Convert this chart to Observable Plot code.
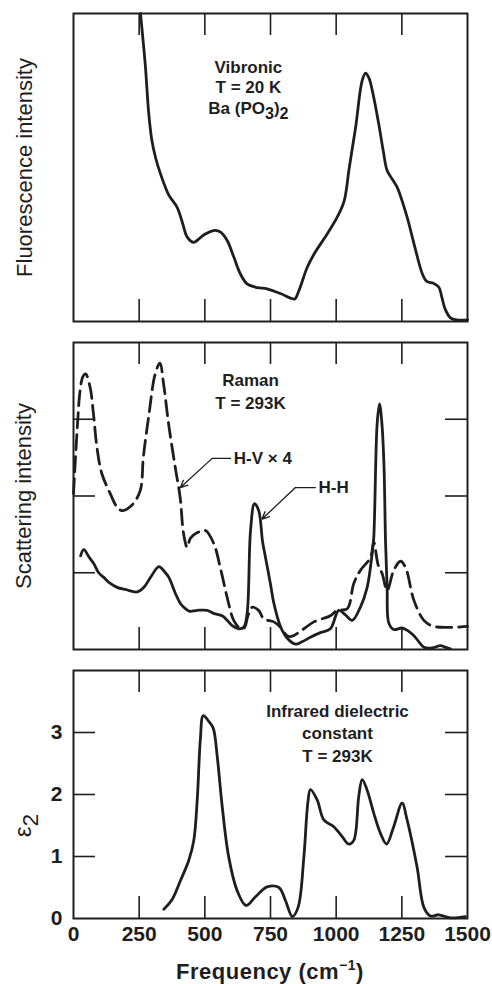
<!DOCTYPE html>
<html><head><meta charset="utf-8">
<script src="https://cdn.jsdelivr.net/npm/d3@7"></script>
<script src="https://cdn.jsdelivr.net/npm/@observablehq/plot@0.6"></script>
<style>
body{margin:0;background:#fff;}
#wrap{position:relative;width:492px;height:984px;font-family:"Liberation Sans",Arial,sans-serif;color:#1e1e1e;overflow:hidden;}
.panel{position:absolute;left:0;}
#xlabel{position:absolute;left:73px;width:394px;top:957px;text-align:center;font-size:22px;font-weight:bold;letter-spacing:0.5px;}
#xlabel sup{font-size:14px;vertical-align:9px;}
</style></head><body><div id="wrap"></div>
<script>
// ---- data ----
const xTicks = [250, 500, 750, 1000, 1250];
const xTickLabels = [0, 250, 500, 750, 1000, 1250, 1500];
const yTicksMid = [1, 2, 3];
const eps2TickLabels = [0, 1, 2, 3];

// Panel 1: vibronic fluorescence (arbitrary units 0..100)
const fluorFreq = [255,264,274,286,298,313,331,363,395,415,433,458,480,500,540,560,585,610,635,661,700,737,790,826,842,858,890,920,955,1004,1030,1050,1074,1099,1112,1125,1140,1162,1180,1194,1215,1232,1270,1300,1328,1345,1370,1391,1402,1415,1435,1460,1500];
const fluorInt  = [100,92,82.6,68,59,53,48,41,37,32,27.4,25.7,27,28.3,29.6,29,26.3,21,15.5,12.2,11,10.6,9,7.6,7.3,10,17.6,22.5,27,33.9,39,50,63,78.2,80.6,79,74,64.2,55,49,46,43.6,33.9,24,15.5,13,12.4,11.1,8,4,1.2,0.5,0.5];

// Panel 2: Raman H-H (solid)
const hhFreq = [27,39,60,77,96,115,140,166,200,242,268,295,325,345,363,388,407,420,440,471,509,534,566,585,604,629,648,661,674,689,705,720,731,750,763,788,813,845,870,902,940,978,1010,1035,1061,1092,1118,1137,1143,1156,1165,1174,1182,1188,1194,1200,1219,1251,1275,1296,1315,1334,1365,1397,1415,1435];
const hhVal  = [1.22,1.30,1.20,1.12,1.0,0.94,0.86,0.81,0.78,0.75,0.81,0.95,1.08,1.02,0.94,0.73,0.6,0.55,0.5,0.51,0.51,0.47,0.44,0.38,0.31,0.27,0.29,0.47,1.55,1.9,1.81,1.4,1.2,0.85,0.6,0.3,0.15,0.07,0.1,0.16,0.22,0.27,0.51,0.45,0.38,0.55,0.81,1.25,1.45,2.94,3.2,2.95,2.4,1.4,0.8,0.35,0.26,0.28,0.24,0.18,0.1,0.03,0.02,0.05,0.03,0.01];

// Panel 2: Raman H-V x 4 (dashed)
const hvFreq = [0,13,25,35,46,63,76,89,108,140,165,184,222,254,266,286,311,329,343,362,387,406,419,433,445,470,502,534,560,585,610,636,650,665,680,705,724,763,788,813,830,877,915,978,1004,1042,1067,1092,1131,1143,1160,1175,1194,1219,1245,1264,1296,1334,1372,1500];
const hvVal  = [2.03,2.81,3.37,3.55,3.59,3.42,3.07,2.64,2.29,2.03,1.86,1.81,1.88,2.07,2.51,3.03,3.59,3.73,3.46,2.94,2.38,1.98,1.51,1.33,1.45,1.52,1.55,1.38,1.05,0.68,0.38,0.27,0.28,0.45,0.55,0.51,0.4,0.36,0.29,0.18,0.17,0.27,0.36,0.44,0.51,0.53,0.86,1.03,1.2,1.40,1.1,0.99,0.77,1.03,1.15,1.07,0.64,0.38,0.3,0.3];

// Panel 3: infrared epsilon_2
const irFreq = [344,376,407,439,458,471,483,494,515,532,547,566,591,623,657,693,737,782,807,833,855,877,892,902,928,953,991,1023,1048,1067,1086,1099,1118,1143,1169,1192,1219,1251,1270,1308,1334,1359,1391,1435,1492];
const irVal  = [0.15,0.31,0.61,0.94,1.26,1.91,2.89,3.27,3.18,3.07,2.62,1.81,0.99,0.45,0.21,0.35,0.51,0.5,0.29,0.03,0.18,0.99,1.86,2.08,1.91,1.59,1.48,1.32,1.2,1.26,1.97,2.24,2.07,1.7,1.37,1.2,1.48,1.86,1.59,0.83,0.18,0.04,0.06,0.01,0.03];

// annotation texts (data coordinates)
const fluorNotes = [
  {x: 666, y: 82.5, t: "Vibronic"},
  {x: 666, y: 76, t: "T = 20 K"},
  {x: 666, y: 69, t: "Ba (PO3)2"}
];
const ramanNotes = [
  {x: 674, y: 3.5, t: "Raman"},
  {x: 674, y: 3.21, t: "T = 293K"}
];
const ramanLabels = [
  {x: 610, y: 2.49, t: "H-V \u00d7 4"},
  {x: 933, y: 2.11, t: "H-H"}
];
const leaderLines = [
  {id: "hv", x: [598, 528], y: [2.49, 2.49]},
  {id: "hh", x: [921, 845], y: [2.11, 2.11]}
];
const leaderArrows = [
  {x1: 528, y1: 2.49, x2: 407, y2: 2.11},
  {x1: 845, y1: 2.11, x2: 718, y2: 1.70}
];
const irNotes = [
  {x: 1005, y: 3.33, t: "Infrared dielectric"},
  {x: 1005, y: 2.99, t: "constant"},
  {x: 1005, y: 2.61, t: "T = 293K"}
];

// ---- drawing ----
const ink = "#1e1e1e";
const W = 492, ML = 73, MR = 25, TICK = 22;
const font = "Liberation Sans, Arial, sans-serif";
const wrap = document.getElementById("wrap");

function place(svg, top) {
  const d = document.createElement("div");
  d.className = "panel";
  d.style.top = top + "px";
  d.appendChild(svg);
  wrap.appendChild(d);
}

function frameTicks(innerH, withY) {
  const m = [
    Plot.frame({stroke: ink, strokeWidth: 2}),
    Plot.tickX(xTicks, {x: d => d, insetTop: innerH - TICK, stroke: ink, strokeWidth: 1.6}),
    Plot.tickX(xTicks, {x: d => d, insetBottom: innerH - TICK, stroke: ink, strokeWidth: 1.6})
  ];
  if (withY) {
    const innerW = W - ML - MR;
    m.push(Plot.tickY(yTicksMid, {y: d => d, insetRight: innerW - TICK, stroke: ink, strokeWidth: 1.6}));
    m.push(Plot.tickY(yTicksMid, {y: d => d, insetLeft: innerW - TICK, stroke: ink, strokeWidth: 1.6}));
  }
  return m;
}

function notes(arr) {
  return Plot.text(arr, {x: "x", y: "y", text: "t", fontSize: 17, fontWeight: "bold", fill: ink, fontFamily: font});
}

function yLabel(text, opts) {
  return Plot.text([text], Object.assign({text: d => d, frameAnchor: "left", textAnchor: "middle", rotate: -90, fontSize: 22, fill: ink, fontFamily: font}, opts));
}

// render trailing digits as subscripts with tspans
function subscript(svg, match, parts) {
  d3.select(svg).selectAll("text").filter(function() { return this.textContent === match; }).each(function() {
    const t = d3.select(this);
    t.text(null);
    for (const [s, sub] of parts) {
      const ts = t.append("tspan").text(s);
      if (sub) ts.attr("dy", "0.3em").attr("font-size", "0.95em");
      else if (sub === false) ts.attr("dy", "-0.3em");
    }
  });
}

// Panel 1
{
  const H = 330, MT = 13, MB = 9;
  const fluor = fluorFreq.map((f, i) => ({f, v: fluorInt[i]}));
  const svg = Plot.plot({
    width: W, height: H, marginLeft: ML, marginRight: MR, marginTop: MT, marginBottom: MB,
    style: {fontFamily: font, background: "transparent"},
    x: {domain: [0, 1500], axis: null},
    y: {domain: [0, 100], axis: null},
    marks: [
      ...frameTicks(H - MT - MB, false),
      Plot.line(fluor, {x: "f", y: "v", stroke: ink, strokeWidth: 2.8, curve: "catmull-rom"}),
      notes(fluorNotes),
      yLabel("Fluorescence intensity", {dx: -49, letterSpacing: 0.9})
    ]
  });
  subscript(svg, "Ba (PO3)2", [["Ba (PO", null], ["3", true], [")", false], ["2", true]]);
  place(svg, 0);
}

// Panel 2
{
  const H = 325, MT = 12, MB = 6;
  const hh = hhFreq.map((f, i) => ({f, v: hhVal[i]}));
  const hv = hvFreq.map((f, i) => ({f, v: hvVal[i]}));
  const lines = leaderLines.flatMap(l => l.x.map((x, i) => ({id: l.id, x, y: l.y[i]})));
  const svg = Plot.plot({
    width: W, height: H, marginLeft: ML, marginRight: MR, marginTop: MT, marginBottom: MB,
    style: {fontFamily: font, background: "transparent"},
    x: {domain: [0, 1500], axis: null},
    y: {domain: [0, 4], axis: null},
    marks: [
      ...frameTicks(H - MT - MB, true),
      Plot.line(hv, {x: "f", y: "v", stroke: ink, strokeWidth: 2.8, strokeDasharray: "15,7", curve: "catmull-rom"}),
      Plot.line(hh, {x: "f", y: "v", stroke: ink, strokeWidth: 2.8, curve: "catmull-rom"}),
      notes(ramanNotes),
      Plot.text(ramanLabels, {x: "x", y: "y", text: "t", textAnchor: "start", fontSize: 17, fontWeight: "bold", fill: ink, fontFamily: font}),
      Plot.line(lines, {x: "x", y: "y", z: "id", stroke: ink, strokeWidth: 1.3}),
      Plot.arrow(leaderArrows, {x1: "x1", y1: "y1", x2: "x2", y2: "y2", stroke: ink, strokeWidth: 1.3, headLength: 9, headAngle: 50}),
      yLabel("Scattering intensity", {dx: -50, letterSpacing: 0.5})
    ]
  });
  place(svg, 330);
}

// Panel 3
{
  const H = 300, MT = 15, MB = 37;
  const ir = irFreq.map((f, i) => ({f, v: irVal[i]}));
  const svg = Plot.plot({
    width: W, height: H, marginLeft: ML, marginRight: MR, marginTop: MT, marginBottom: MB,
    style: {fontFamily: font, background: "transparent", fontSize: "21px", fontWeight: "bold", color: ink, overflow: "visible"},
    x: {domain: [0, 1500]},
    y: {domain: [0, 4]},
    marks: [
      ...frameTicks(H - MT - MB, true),
      Plot.axisX(xTickLabels, {anchor: "bottom", tickSize: 0, tickPadding: 8, label: null, fill: ink, tickFormat: d => String(d)}),
      Plot.axisY(eps2TickLabels, {anchor: "left", tickSize: 0, tickPadding: 11, label: null, fill: ink, tickFormat: d => String(d)}),
      Plot.line(ir, {x: "f", y: "v", stroke: ink, strokeWidth: 2.8, curve: "catmull-rom"}),
      notes(irNotes),
      Plot.text(["\u03b52"], {text: d => d, y: 1.5, frameAnchor: "left", textAnchor: "middle", dx: -50, rotate: -90, fontSize: 24, fontWeight: "normal", fill: ink, fontFamily: font})
    ]
  });
  subscript(svg, "\u03b52", [["\u03b5", null], ["2", true]]);
  place(svg, 655);
}

const xl = document.createElement("div");
xl.id = "xlabel";
xl.innerHTML = "Frequency (cm<sup>\u22121</sup>)";
wrap.appendChild(xl);
</script>
</body></html>
